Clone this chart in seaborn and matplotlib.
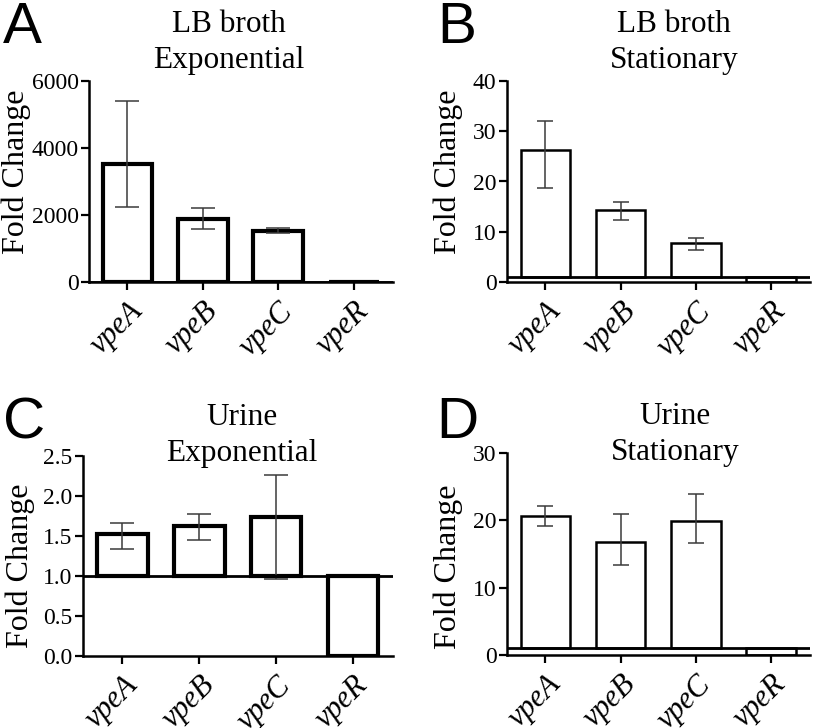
import numpy as np
import pandas as pd
import matplotlib
matplotlib.use("Agg")
import matplotlib.pyplot as plt
import seaborn as sns

# Data: mean fold change and error bar limits
genes = ["vpeA", "vpeB", "vpeC", "vpeR"]

lb_exp = [3520, 1880, 1530, 0.0]
lb_exp_lo = [2250, 1570, 1460, 0.0]
lb_exp_hi = [5400, 2200, 1600, 0.0]

lb_stat = [26.3, 14.3, 7.8, 0.0]
lb_stat_lo = [18.8, 12.4, 6.4, 0.0]
lb_stat_hi = [32.1, 15.9, 8.8, 0.0]

ur_exp = [1.52, 1.63, 1.74, 0.0]
ur_exp_lo = [1.34, 1.45, 0.96, 0.0]
ur_exp_hi = [1.66, 1.77, 2.26, 0.0]

ur_stat = [20.7, 16.8, 19.9, 0.0]
ur_stat_lo = [19.2, 13.4, 16.6, 0.0]
ur_stat_hi = [22.2, 20.9, 23.9, 0.0]

sns.set_theme(style="ticks")
plt.rcParams["font.family"] = ["Liberation Serif", "DejaVu Serif"]
plt.rcParams["text.color"] = "black"
plt.rcParams["axes.labelcolor"] = "black"

W, H = 816, 728
fig = plt.figure(figsize=(W / 100, H / 100), dpi=100)


def box(l, r, t, b):
    # pixel box -> figure fraction rect
    return [l / W, 1 - b / H, (r - l) / W, (b - t) / H]


panels = [
    dict(rect=box(89, 393, 81, 282), vals=lb_exp, lo=lb_exp_lo, hi=lb_exp_hi,
         ylim=6000, ticks=[0, 2000, 4000, 6000], fmt="{:.0f}", lw=3.0, cap=8.3,
         ylab=(-0.19, 0.55), title="LB broth\nExponential", tpos=(229, 10),
         letter="A", lpos=(3, 1)),
    dict(rect=box(507, 810, 81, 282), vals=lb_stat, lo=lb_stat_lo, hi=lb_stat_hi,
         ylim=40, ticks=[0, 10, 20, 30, 40], fmt="{:.0f}", lw=1.8, cap=5.5,
         ylab=(-0.145, 0.55), title="LB broth\nStationary", tpos=(674, 10),
         letter="B", lpos=(437, 1)),
    dict(rect=box(83, 393, 456, 656), vals=ur_exp, lo=ur_exp_lo, hi=ur_exp_hi,
         ylim=2.5, ticks=[0, 0.5, 1.0, 1.5, 2.0, 2.5], fmt="{:.1f}", lw=3.0, cap=8.3,
         ylab=(-0.155, 0.45), title="Urine\nExponential", tpos=(242, 403),
         letter="C", lpos=(3, 397)),
    dict(rect=box(507, 810, 453, 655), vals=ur_stat, lo=ur_stat_lo, hi=ur_stat_hi,
         ylim=30, ticks=[0, 10, 20, 30], fmt="{:.0f}", lw=1.8, cap=5.5,
         ylab=(-0.145, 0.435), title="Urine\nStationary", tpos=(675, 402),
         letter="D", lpos=(436, 396)),
]

for p in panels:
    ax = fig.add_axes(p["rect"])
    vals = np.array(p["vals"])
    df = pd.DataFrame({"gene": genes, "height": vals - 1})
    # bars are drawn from the baseline of 1 (no change)
    sns.barplot(data=df, x="gene", y="height", bottom=1, ax=ax, color="white",
                saturation=1, edgecolor="black", linewidth=p["lw"], width=0.66,
                errorbar=None)
    x = np.arange(len(genes))
    yerr = [vals - np.array(p["lo"]), np.array(p["hi"]) - vals]
    ax.errorbar(x[:3], vals[:3], yerr=[yerr[0][:3], yerr[1][:3]], fmt="none",
                ecolor="#3a3a3a", elinewidth=1.1, capsize=p["cap"], capthick=1.1,
                zorder=3)
    ax.axhline(1, color="black", lw=2.0, zorder=4)

    ax.set_xlim(-0.51, 3.52)
    ax.set_ylim(0, p["ylim"])
    ax.set_yticks(p["ticks"])
    ax.set_yticklabels([p["fmt"].format(t) for t in p["ticks"]], fontsize=17)
    # tick marks on the categories, labels slightly to the right (minor ticks)
    ax.set_xticks(x)
    ax.set_xticklabels([])
    ax.set_xticks(x + 0.14, minor=True)
    ax.set_xticklabels(genes, minor=True, fontsize=22, style="italic", rotation=45,
                       ha="right", va="center", rotation_mode="anchor")
    ax.tick_params(axis="x", which="minor", length=0, pad=18)
    ax.tick_params(axis="y", pad=1.5)
    ax.tick_params(which="major", width=1.6, length=6, color="black")
    ax.tick_params(which="both", labelcolor="black")
    ax.set_xlabel("")
    ax.set_ylabel("Fold Change", fontsize=23)
    ax.yaxis.set_label_coords(*p["ylab"])
    sns.despine(ax=ax)
    for s in ["left", "bottom"]:
        ax.spines[s].set_linewidth(1.8)
        ax.spines[s].set_color("black")

    fig.text(p["tpos"][0] / W, 1 - p["tpos"][1] / H, p["title"], ha="center",
             va="top", fontsize=22.5, linespacing=1.3)
    fig.text(p["lpos"][0] / W, 1 - p["lpos"][1] / H, p["letter"], ha="left",
             va="top", fontsize=42, family="Liberation Sans")

fig.savefig("out.png", dpi=100)
